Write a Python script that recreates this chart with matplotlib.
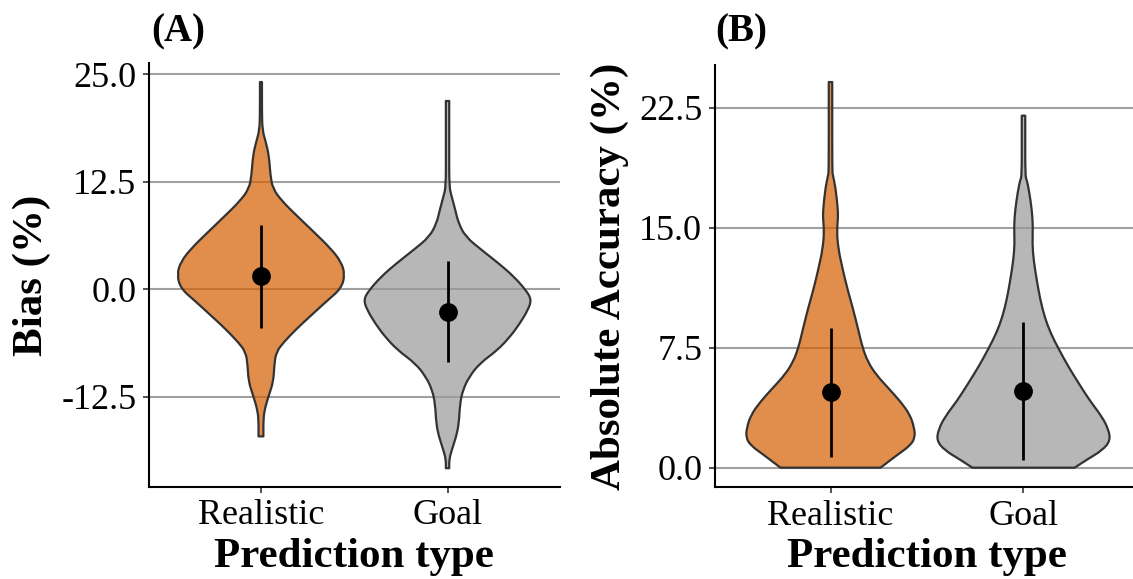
import numpy as np
import matplotlib
matplotlib.use("Agg")
import matplotlib.pyplot as plt
from matplotlib.path import Path
from matplotlib.patches import PathPatch

plt.rcParams['font.family'] = ['Liberation Serif', 'DejaVu Serif']

# ---- data -------------------------------------------------------------
categories = ["Realistic", "Goal"]

# Bias (%): mean and SD per prediction type
bias_mean = [1.5, -2.6]
bias_sd = [6.0, 5.9]

# Absolute accuracy (%): mean and SD per prediction type
acc_mean = [4.7, 4.8]
acc_sd = [4.05, 4.33]

# Kernel density profiles (value grid, relative density 0..1)
bias_real_y = [24.1, 23.5, 20.5, 18.5, 17.2, 15.6, 13.3, 11.7, 10.2, 8.6, 6.7, 4.8, 3.2,
               1.7, 0.1, -1.4, -3.0, -4.5, -6.1, -7.3, -8.8, -10.7, -12.3, -13.8, -15.0, -17.1]
bias_real_d = [0.012, 0.012, 0.012, 0.018, 0.055, 0.095, 0.112, 0.141, 0.256, 0.423, 0.626, 0.826, 0.956,
               1.0, 0.956, 0.780, 0.601, 0.434, 0.275, 0.181, 0.159, 0.148, 0.095, 0.048, 0.029, 0.029]

bias_goal_y = [21.9, 21.0, 16.0, 11.9, 10.8, 9.2, 7.7, 6.1, 4.6, 3.0, 1.5, -0.1, -1.2,
               -2.4, -4.0, -5.5, -7.1, -8.6, -10.2, -11.7, -13.3, -15.6, -17.1, -18.7, -19.8, -20.8]
bias_goal_d = [0.02, 0.02, 0.02, 0.02, 0.049, 0.093, 0.130, 0.216, 0.402, 0.611, 0.788, 0.934, 1.0,
               0.958, 0.859, 0.746, 0.592, 0.384, 0.256, 0.183, 0.148, 0.135, 0.104, 0.049, 0.02, 0.02]

acc_real_y = [24.1, 23.0, 18.5, 18.3, 17.5, 16.2, 15.6, 14.8, 13.7, 12.5, 11.2, 10.0,
              8.7, 7.5, 6.6, 5.8, 5.0, 4.1, 3.3, 2.5, 1.9, 1.4, 0.8, 0.0]
acc_real_d = [0.02, 0.02, 0.02, 0.027, 0.058, 0.084, 0.087, 0.073, 0.089, 0.136, 0.193, 0.256,
              0.316, 0.369, 0.431, 0.527, 0.662, 0.811, 0.916, 0.964, 0.973, 0.922, 0.769, 0.576]

acc_goal_y = [22.0, 21.0, 18.2, 18.0, 17.2, 16.1, 15.1, 14.0, 13.0, 11.7, 10.5, 9.4,
              8.4, 7.4, 6.3, 5.3, 4.2, 3.2, 2.4, 1.7, 1.1, 0.5, 0.0]
acc_goal_d = [0.02, 0.02, 0.02, 0.038, 0.067, 0.096, 0.109, 0.102, 0.116, 0.153, 0.193, 0.244,
              0.313, 0.407, 0.518, 0.633, 0.762, 0.902, 0.978, 1.0, 0.911, 0.729, 0.589]

bias_ticks = [-12.5, 0.0, 12.5, 25.0]
acc_ticks = [0.0, 7.5, 15.0, 22.5]

# ---- styling ------------------------------------------------------------
FILLS = ["#D55E00", "#999999"]
FILL_ALPHA = 0.7
OUTLINE = "#333333"
HALF_WIDTH = 0.45
GRID = "#a0a0a0"

W, H = 1133, 579
fig = plt.figure(figsize=(W / 100, H / 100), dpi=100)


def smooth_side(pts):
    """Quadratic Bezier segments using the profile points as control points."""
    verts = [pts[0]]
    codes = [Path.LINETO]
    mids = (pts[:-1] + pts[1:]) / 2.0
    verts.append(mids[0])
    codes.append(Path.LINETO)
    for i in range(1, len(pts) - 1):
        verts.extend([pts[i], mids[i]])
        codes.extend([Path.CURVE3, Path.CURVE3])
    verts.append(pts[-1])
    codes.append(Path.LINETO)
    return verts, codes


def draw_violin(ax, xpos, ys, dens, color):
    ys = np.asarray(ys, float)
    hw = np.asarray(dens, float) * HALF_WIDTH
    right = np.column_stack([xpos + hw, ys])
    left = np.column_stack([xpos - hw, ys])[::-1]
    v1, c1 = smooth_side(right)
    v2, c2 = smooth_side(left)
    verts = v1 + v2 + [right[0]]
    codes = c1 + c2 + [Path.CLOSEPOLY]
    codes[0] = Path.MOVETO
    path = Path(np.array(verts), codes)
    ax.add_patch(PathPatch(path, facecolor=color, alpha=FILL_ALPHA, lw=0, zorder=2))
    ax.add_patch(PathPatch(path, facecolor="none", edgecolor=OUTLINE, lw=1.6,
                           joinstyle="round", zorder=3))


def style_panel(ax, ticks, ylim, ylabel, label_x):
    ax.set_xlim(0.4, 2.6)
    ax.set_ylim(*ylim)
    ax.set_xticks([1, 2])
    ax.set_xticklabels(categories, fontsize=26)
    ax.set_yticks(ticks)
    ax.set_yticklabels([f"{t:.1f}" for t in ticks], fontsize=26)
    for s in ["top", "right"]:
        ax.spines[s].set_visible(False)
    for s in ["left", "bottom"]:
        ax.spines[s].set_linewidth(1.5)
        ax.spines[s].set_color("black")
    ax.tick_params(axis="both", length=4, width=1.2, color="#333333", pad=5)
    ax.yaxis.grid(True, color=GRID, lw=1.5, zorder=0)
    ax.set_axisbelow(True)
    ax.set_xlabel("Prediction type", fontsize=31, fontweight="bold")
    ax.xaxis.set_label_coords(0.5, -0.166)
    ax.xaxis.label.set_va("center")
    ax.set_ylabel(ylabel, fontsize=31, fontweight="bold")
    ax.yaxis.set_label_coords(label_x, 0.5)
    ax.yaxis.label.set_va("center")


def draw_summary(ax, means, sds):
    for i, (m, s) in enumerate(zip(means, sds)):
        ax.plot([i + 1, i + 1], [m - s, m + s], color="black", lw=2.0, zorder=4,
                solid_capstyle="butt")
        ax.plot([i + 1], [m], "o", color="black", ms=12.5, zorder=5)


# Panel A: bias
axA = fig.add_axes([149 / W, (H - 486.7) / H, 410.5 / W, 423.4 / H])
draw_violin(axA, 1, bias_real_y, bias_real_d, FILLS[0])
draw_violin(axA, 2, bias_goal_y, bias_goal_d, FILLS[1])
draw_summary(axA, bias_mean, bias_sd)
style_panel(axA, bias_ticks, (-22.95, 26.28), "Bias (%)", -0.285)

# Panel B: absolute accuracy
axB = fig.add_axes([714.7 / W, (H - 487.3) / H, 424.6 / W, 422.7 / H])
draw_violin(axB, 1, acc_real_y, acc_real_d, FILLS[0])
draw_violin(axB, 2, acc_goal_y, acc_goal_d, FILLS[1])
draw_summary(axB, acc_mean, acc_sd)
style_panel(axB, acc_ticks, (-1.225, 25.19), "Absolute Accuracy (%)", -0.248)

fig.text(151 / W, 1 - 32 / H, "(A)", fontsize=28, fontweight="bold", ha="left", va="center")
fig.text(715 / W, 1 - 32 / H, "(B)", fontsize=28, fontweight="bold", ha="left", va="center")

fig.savefig("out.png", dpi=100)
